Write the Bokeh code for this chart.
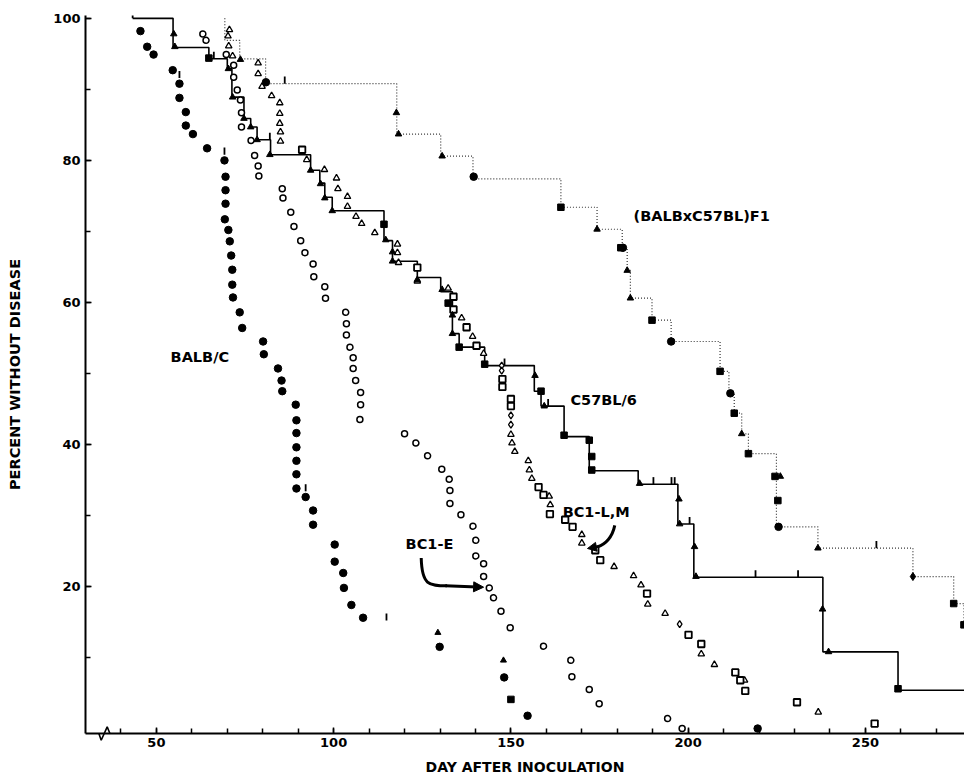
from bokeh.plotting import figure
from bokeh.models import Range1d, FixedTicker, Arrow, NormalHead
from bokeh.embed import file_html
from bokeh.resources import INLINE
from bokeh.core.properties import value

FONT = "DejaVu Sans"

# ---------------- axes ----------------
x_ticks = [50, 100, 150, 200, 250]
x_minor = list(range(40, 280, 10))
y_ticks = [20, 40, 60, 80, 100]
y_minor = [10, 20, 30, 40, 50, 60, 70, 80, 90, 100]

# ---------------- BALB/C (filled circles) ----------------
balbc_day = [45.5, 47.4, 49.2, 54.6, 56.5, 56.5, 58.3, 58.3, 60.3, 64.3,
             69.2, 69.5, 69.5, 69.5, 69.3, 70.3, 70.7, 71.1, 71.4, 71.4,
             71.6, 73.5, 74.2, 80.1, 80.3, 84.3, 85.3, 85.5, 89.3, 89.5,
             89.5, 89.5, 89.5, 89.5, 89.5, 92.1, 94.2, 94.2, 100.3, 100.3,
             102.7, 102.9, 105.0, 108.3]
balbc_pct = [98.2, 96.0, 94.9, 92.7, 90.8, 88.8, 86.8, 84.9, 83.7, 81.7,
             80.0, 77.7, 75.8, 73.9, 71.7, 70.2, 68.6, 66.6, 64.6, 62.5,
             60.7, 58.6, 56.4, 54.5, 52.7, 50.7, 49.0, 47.5, 45.6, 43.4,
             41.6, 39.6, 37.7, 35.8, 33.8, 32.6, 30.7, 28.7, 25.9, 23.5,
             21.9, 19.8, 17.4, 15.6]
balbc_cens_day = [56.5, 69.2, 92.1, 114.9]
balbc_cens_pct = [91.6, 80.8, 33.4, 15.2]

# ---------------- BC1-E (open circles) ----------------
bc1e_day = [63.1, 64.0, 69.7, 71.8, 71.8, 72.8, 73.7, 74.0, 74.0, 76.7,
            77.7, 78.7, 78.9, 85.5, 85.7, 87.9, 88.8, 90.7, 91.9, 94.2,
            94.4, 97.5, 97.7, 103.4, 103.6, 103.6, 104.6, 105.5, 105.5, 106.2,
            107.6, 107.6, 107.4, 120.0, 123.2, 126.5, 130.5, 132.6, 132.8, 132.8,
            135.9, 139.3, 140.1, 140.1, 142.3, 142.3, 143.9, 145.1, 147.2, 149.8,
            159.2, 166.9, 167.2, 172.1, 174.9, 194.2, 198.3]
bc1e_pct = [97.8, 96.9, 94.9, 93.4, 91.7, 89.9, 88.5, 86.7, 84.7, 82.8,
            80.7, 79.2, 77.8, 76.0, 74.7, 72.7, 70.7, 68.7, 67.0, 65.4,
            63.6, 62.2, 60.6, 58.6, 57.0, 55.4, 53.7, 52.2, 50.7, 49.0,
            47.3, 45.6, 43.5, 41.5, 40.2, 38.4, 36.5, 35.1, 33.5, 31.7,
            30.1, 28.5, 26.5, 24.3, 23.2, 21.4, 19.8, 18.4, 16.5, 14.2,
            11.6, 9.6, 7.3, 5.5, 3.5, 1.4, 0.0]

# ---------------- BC1-L,M (open triangles / open squares / open diamonds) ----------------
bc1l_day = [70.6, 70.2, 70.4, 71.5, 78.7, 78.7, 79.8, 82.5, 84.8, 84.8,
            84.8, 85.0, 85.0, 92.4, 97.4, 100.8, 101.2, 103.9, 103.9, 106.3,
            107.9, 111.6, 118.0, 118.0, 118.3, 123.6, 132.3, 136.1, 139.2, 142.3,
            150.0, 150.3, 151.1, 154.9, 155.2, 155.9, 160.8, 161.1, 170.0, 170.0,
            179.1, 184.6, 186.7, 188.6, 193.5, 203.7, 207.4, 215.9, 236.7]
bc1l_pct = [98.4, 97.5, 96.1, 94.7, 93.7, 92.2, 90.4, 89.1, 88.1, 86.6,
            85.2, 84.0, 82.7, 80.1, 78.7, 77.5, 76.0, 74.9, 73.5, 72.1,
            71.1, 69.8, 68.2, 67.0, 65.6, 63.0, 62.0, 57.8, 55.2, 52.8,
            41.4, 40.2, 39.0, 37.7, 36.4, 35.2, 32.7, 31.5, 27.3, 26.1,
            22.8, 21.5, 20.2, 17.5, 16.2, 10.5, 9.0, 6.8, 2.3]
bc1m_day = [91.1, 123.6, 133.8, 133.8, 137.5, 140.3, 147.6, 147.6, 150.0, 150.0,
            157.8, 159.2, 161.0, 165.3, 167.4, 173.8, 175.2, 188.4, 200.1, 203.7,
            213.3, 214.7, 216.1, 230.7, 252.6]
bc1m_pct = [81.5, 64.9, 60.8, 59.0, 56.5, 53.9, 49.2, 48.1, 46.4, 45.4,
            34.0, 32.9, 30.2, 29.4, 28.4, 25.1, 23.7, 19.0, 13.2, 11.9,
            7.9, 6.8, 5.3, 3.7, 0.7]
bc1lm_dia_day = [147.4, 147.4, 150.0, 150.0, 197.6]
bc1lm_dia_pct = [51.1, 50.4, 44.1, 42.8, 14.7]

# ---------------- C57BL/6 (solid step line) ----------------
c57_start_day = 43.3
c57_end_day = 280.0
c57_drop_day = [54.7, 64.8, 70.0, 71.3, 74.7, 76.6, 78.4, 82.2, 93.5, 96.1,
                97.5, 99.6, 114.2, 116.6, 123.6, 130.2, 133.5, 135.4, 142.6, 156.6,
                158.5, 165.0, 172.1, 185.9, 197.1, 201.6, 238.0, 259.2]
c57_level = [95.9, 94.3, 92.9, 88.9, 85.9, 84.7, 82.9, 80.8, 78.6, 76.8,
             74.8, 72.9, 68.7, 65.8, 63.5, 61.5, 55.6, 53.7, 51.1, 47.5,
             45.4, 41.1, 36.3, 34.4, 28.8, 21.3, 10.8, 5.4]
c57_tri_day = [54.9, 55.2, 70.3, 71.5, 74.7, 76.6, 78.4, 82.0, 93.5, 96.3,
               97.5, 99.6, 114.7, 116.6, 116.6, 123.6, 130.6, 133.5, 133.5, 156.8,
               159.4, 186.3, 197.4, 197.6, 201.8, 202.2, 237.9, 239.6]
c57_tri_pct = [97.8, 96.0, 92.9, 88.9, 85.9, 84.7, 82.9, 80.8, 78.6, 76.7,
               74.7, 72.9, 68.8, 67.1, 65.8, 63.2, 61.8, 58.2, 55.6, 49.7,
               45.4, 34.5, 32.3, 28.8, 25.6, 21.4, 16.8, 10.8]
c57_sq_day = [64.8, 114.2, 132.3, 135.4, 142.6, 158.5, 165.0, 172.1, 172.8, 172.8, 259.2]
c57_sq_pct = [94.4, 71.0, 59.9, 53.7, 51.3, 47.5, 41.3, 40.6, 38.3, 36.4, 5.6]
c57_cens_day = [43.3, 66.2, 82.0, 148.2, 160.5, 190.2, 195.3, 196.2, 200.4, 219.0, 231.0]
c57_cens_pct = [100.0, 94.3, 82.9, 51.1, 45.4, 34.4, 34.4, 34.4, 28.8, 21.3, 21.3]

# ---------------- (BALBxC57BL)F1 (dotted step line) ----------------
f1_start_day = 69.3
f1_end_day = 280.0
f1_drop_day = [69.3, 73.5, 80.8, 117.8, 130.2, 139.3, 164.1, 174.3, 181.4, 182.8,
               183.7, 189.8, 195.2, 209.0, 211.5, 213.0, 215.1, 217.0, 224.9, 236.6,
               263.4, 274.9, 277.8]
f1_level = [96.9, 94.3, 90.8, 83.7, 80.6, 77.4, 73.4, 70.3, 67.6, 64.5,
            60.6, 57.5, 54.5, 50.3, 47.2, 44.4, 41.5, 38.7, 28.4, 25.4,
            21.4, 17.6, 14.6]
f1_tri_day = [73.7, 117.7, 118.3, 130.6, 174.3, 182.8, 183.7, 215.1, 226.0, 236.6]
f1_tri_pct = [94.2, 86.7, 83.7, 80.6, 70.3, 64.5, 60.6, 41.5, 35.5, 25.4]
f1_sq_day = [164.1, 189.8, 209.0, 213.0, 217.0, 224.5, 225.3, 274.9, 277.8, 181.0]
f1_sq_pct = [73.4, 57.5, 50.3, 44.4, 38.7, 35.5, 32.1, 17.6, 14.6, 67.7]
f1_circ_day = [80.9, 139.5, 181.6, 195.2, 211.9, 225.5]
f1_circ_pct = [91.0, 77.7, 67.7, 54.5, 47.2, 28.4]
f1_dia_day = [263.4]
f1_dia_pct = [21.4]
f1_cens_day = [86.2, 253.1]
f1_cens_pct = [90.8, 25.4]

# ---------------- isolated late filled symbols ----------------
late_circ_day = [129.9, 148.1, 154.7, 219.6]
late_circ_pct = [11.5, 7.2, 1.8, 0.0]
late_tri_day = [129.4, 147.9]
late_tri_pct = [13.5, 9.6]
late_sq_day = [150.0]
late_sq_pct = [4.1]

# ---------------- figure ----------------
p = figure(width=964, height=778,
           x_range=Range1d(30, 277.95), y_range=Range1d(-0.7, 100.4),
           output_backend="svg", toolbar_location=None,
           min_border_left=85, min_border_right=0,
           min_border_top=15, min_border_bottom=45)
p.outline_line_color = None
p.grid.visible = False
p.background_fill_color = "white"
p.border_fill_color = "white"

p.xaxis.ticker = FixedTicker(ticks=x_ticks, minor_ticks=x_minor)
p.yaxis.ticker = FixedTicker(ticks=y_ticks, minor_ticks=y_minor)
for ax in (p.xaxis, p.yaxis):
    ax.axis_line_width = 2
    ax.axis_line_color = "black"
    ax.major_tick_in = 6
    ax.major_tick_out = 0
    ax.minor_tick_in = 5
    ax.minor_tick_out = 0
    ax.major_tick_line_width = 1.5
    ax.minor_tick_line_width = 1.5
    ax.major_tick_line_color = "black"
    ax.minor_tick_line_color = "black"
    ax.major_label_text_font = FONT
    ax.major_label_text_font_style = "bold"
    ax.major_label_text_font_size = "13px"
    ax.major_label_text_color = "black"
    ax.axis_label_text_font = FONT
    ax.axis_label_text_font_style = "bold"
    ax.axis_label_text_color = "black"

p.xaxis.axis_label = "DAY AFTER INOCULATION"
p.yaxis.axis_label = "PERCENT WITHOUT DISEASE"
p.xaxis.axis_label_text_font_size = "14px"
p.yaxis.axis_label_text_font_size = "14.5px"
p.xaxis.major_label_standoff = 4
p.xaxis.axis_label_standoff = 9
p.yaxis.major_label_standoff = 5
p.yaxis.axis_label_standoff = 27

# axis break symbol
p.line([33.75, 34.43, 36.12, 36.86], [-0.66, -1.65, 0.23, -0.66],
       line_color="black", line_width=1.6, level="overlay")

# F1 dotted step
f1_x = [f1_start_day] + f1_drop_day + [f1_end_day]
f1_y = [100.0] + f1_level + [f1_level[-1]]
p.step(f1_x, f1_y, mode="after", line_color="#333333", line_width=1.2, line_dash="1 2")

# C57 solid step
c57_x = [c57_start_day] + c57_drop_day + [c57_end_day]
c57_y = [100.0] + c57_level + [c57_level[-1]]
p.step(c57_x, c57_y, mode="after", line_color="black", line_width=1.6)

# censor ticks
tick_h = 1.0
p.segment(c57_cens_day, c57_cens_pct, c57_cens_day, [v + tick_h for v in c57_cens_pct],
          line_color="black", line_width=1.8)
p.segment(f1_cens_day, f1_cens_pct, f1_cens_day, [v + tick_h for v in f1_cens_pct],
          line_color="black", line_width=1.8)
p.segment(balbc_cens_day, balbc_cens_pct, balbc_cens_day, [v + tick_h for v in balbc_cens_pct],
          line_color="black", line_width=1.8)

# open markers
p.scatter(bc1e_day, bc1e_pct, marker="circle", size=6, fill_color="white",
          line_color="black", line_width=1.5)
p.scatter(bc1l_day, bc1l_pct, marker="triangle", size=6.5, fill_color="white",
          line_color="black", line_width=1.3)
p.scatter(bc1m_day, bc1m_pct, marker="square", size=6.5, fill_color="white",
          line_color="black", line_width=1.8)
p.scatter(bc1lm_dia_day, bc1lm_dia_pct, marker="diamond", size=7, fill_color="white",
          line_color="black", line_width=1.3)

# filled markers
p.scatter(balbc_day, balbc_pct, marker="circle", size=7.5, fill_color="black", line_color="black")
p.scatter(c57_tri_day, c57_tri_pct, marker="triangle", size=6.5, fill_color="black", line_color="black")
p.scatter(c57_sq_day, c57_sq_pct, marker="square", size=6.5, fill_color="black", line_color="black")
p.scatter(f1_tri_day, f1_tri_pct, marker="triangle", size=6.5, fill_color="black", line_color="black")
p.scatter(f1_sq_day, f1_sq_pct, marker="square", size=6.5, fill_color="black", line_color="black")
p.scatter(f1_circ_day, f1_circ_pct, marker="circle", size=7.5, fill_color="black", line_color="black")
p.scatter(f1_dia_day, f1_dia_pct, marker="diamond", size=8, fill_color="black", line_color="black")
p.scatter(late_circ_day, late_circ_pct, marker="circle", size=7.5, fill_color="black", line_color="black")
p.scatter(late_tri_day, late_tri_pct, marker="triangle", size=6, fill_color="black", line_color="black")
p.scatter(late_sq_day, late_sq_pct, marker="square", size=6.5, fill_color="black", line_color="black")

# curve labels
p.text(x=[54.0, 120.3, 164.6, 166.8, 184.6], y=[52.3, 26.0, 30.5, 46.2, 72.1],
       text=["BALB/C", "BC1-E", "BC1-L,M", "C57BL/6", "(BALBxC57BL)F1"],
       text_font=value(FONT), text_font_style="bold", text_font_size="14.5px",
       text_color="black", text_align="left", text_baseline="middle")

# arrows
p.bezier(x0=[124.7], y0=[24.0], x1=[132.0], y1=[20.1],
         cx0=[124.9], cy0=[20.2], cx1=[126.8], cy1=[20.1],
         line_color="black", line_width=3)
p.add_layout(Arrow(x_start=131.5, y_start=20.1, x_end=142.3, y_end=19.9,
                   line_color="black", line_width=3,
                   end=NormalHead(size=10, fill_color="black", line_color="black")))
p.bezier(x0=[179.3], y0=[28.6], x1=[174.5], y1=[25.6],
         cx0=[178.6], cy0=[26.9], cx1=[176.6], cy1=[25.9],
         line_color="black", line_width=3)
p.add_layout(Arrow(x_start=174.8, y_start=25.65, x_end=171.6, y_end=25.35,
                   line_color="black", line_width=3,
                   end=NormalHead(size=9, fill_color="black", line_color="black")))

open("out.html", "w").write(file_html(p, INLINE))
